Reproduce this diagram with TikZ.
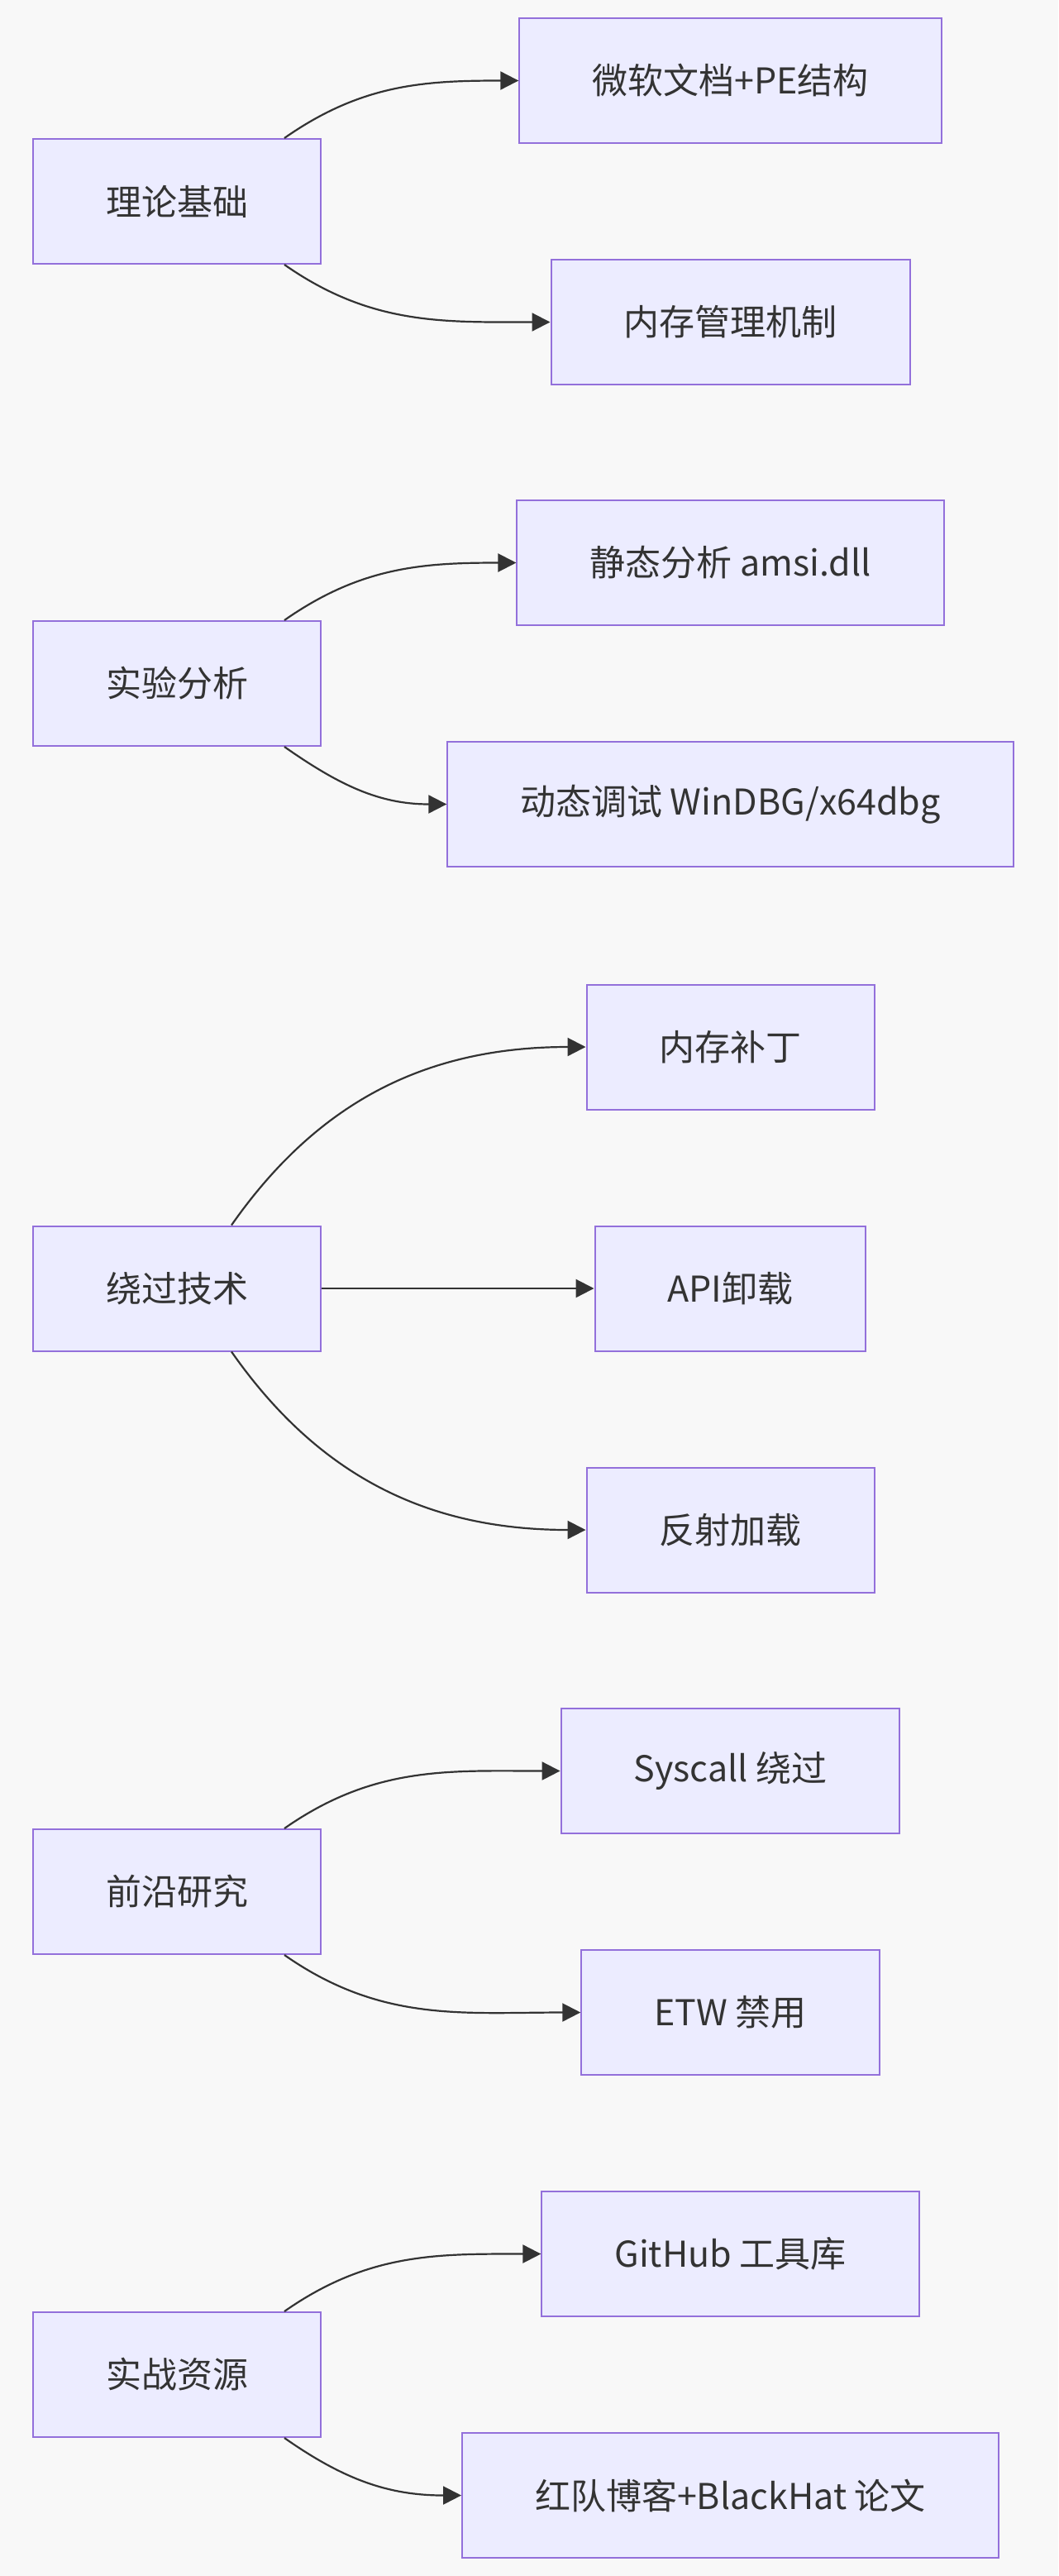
\documentclass[tikz,border=0pt]{standalone}
\usepackage{fontspec}
\setmainfont{Noto Sans CJK SC}
\usetikzlibrary{arrows.meta}

\definecolor{nodefill}{HTML}{ECECFF}
\definecolor{nodeline}{HTML}{9370DB}
\definecolor{edgeline}{HTML}{333333}
\definecolor{pagebg}{HTML}{F8F8F8}

\tikzstyle{box} = [rectangle, minimum height=75.5pt, inner xsep=44pt, inner ysep=0pt, text centered, fill=nodefill, draw=nodeline, line width=1pt, text=edgeline, font=\fontsize{21.5pt}{26pt}\selectfont]

\begin{document}
\begin{tikzpicture}[-,auto,node distance=334.75pt,line width=1.1pt,>={Triangle[length=11pt,width=11pt]}]
\fill[pagebg] (0,0) rectangle (640pt,-1557.5pt);
\useasboundingbox (0,0) rectangle (640pt,-1557.5pt);

% theory
\node[box] (Theory) at (107pt,-121.75pt) {理论基础};
\node[box] (MsDoc) [right of=Theory, yshift=73pt] {微软文档+PE结构};
\node[box] (MemMgmt) [right of=Theory, yshift=-73pt] {内存管理机制};

% lab work
\node[box] (Lab) [below of=Theory, node distance=291.5pt] {实验分析};
\node[box] (StaticAmsi) [right of=Lab, yshift=73pt] {静态分析 amsi.dll};
\node[box] (DynDebug) [right of=Lab, yshift=-73pt] {动态调试 WinDBG/x64dbg};

% bypass
\node[box] (Bypass) [below of=Lab, node distance=365.75pt] {绕过技术};
\node[box] (MemPatch) [right of=Bypass, yshift=146pt] {内存补丁};
\node[box] (ApiUnhook) [right of=Bypass] {API卸载};
\node[box] (ReflLoad) [right of=Bypass, yshift=-146pt] {反射加载};

% frontier
\node[box] (Frontier) [below of=Bypass, node distance=364.75pt] {前沿研究};
\node[box] (Syscall) [right of=Frontier, yshift=73pt] {Syscall 绕过};
\node[box] (Etw) [right of=Frontier, yshift=-73pt] {ETW 禁用};

% resources
\node[box] (Practice) [below of=Frontier, node distance=292pt] {实战资源};
\node[box] (GitHub) [right of=Practice, yshift=73pt] {GitHub 工具库};
\node[box] (RedTeam) [right of=Practice, yshift=-73pt] {红队博客+BlackHat 论文};

\path[->, edgeline]
  ([xshift=-22.5pt]Theory.north east) edge[out=35, in=180] (MsDoc)
  ([xshift=-22.5pt]Theory.south east) edge[out=-35, in=180] (MemMgmt)
  ([xshift=-22.5pt]Lab.north east) edge[out=35, in=180] (StaticAmsi)
  ([xshift=-22.5pt]Lab.south east) edge[out=-35, in=180] (DynDebug)
  ([xshift=-54.5pt]Bypass.north east) edge[out=55, in=180] (MemPatch)
  (Bypass) edge (ApiUnhook)
  ([xshift=-54.5pt]Bypass.south east) edge[out=-55, in=180] (ReflLoad)
  ([xshift=-22.5pt]Frontier.north east) edge[out=35, in=180] (Syscall)
  ([xshift=-22.5pt]Frontier.south east) edge[out=-35, in=180] (Etw)
  ([xshift=-22.5pt]Practice.north east) edge[out=35, in=180] (GitHub)
  ([xshift=-22.5pt]Practice.south east) edge[out=-35, in=180] (RedTeam)
  ;

\end{tikzpicture}
\end{document}
